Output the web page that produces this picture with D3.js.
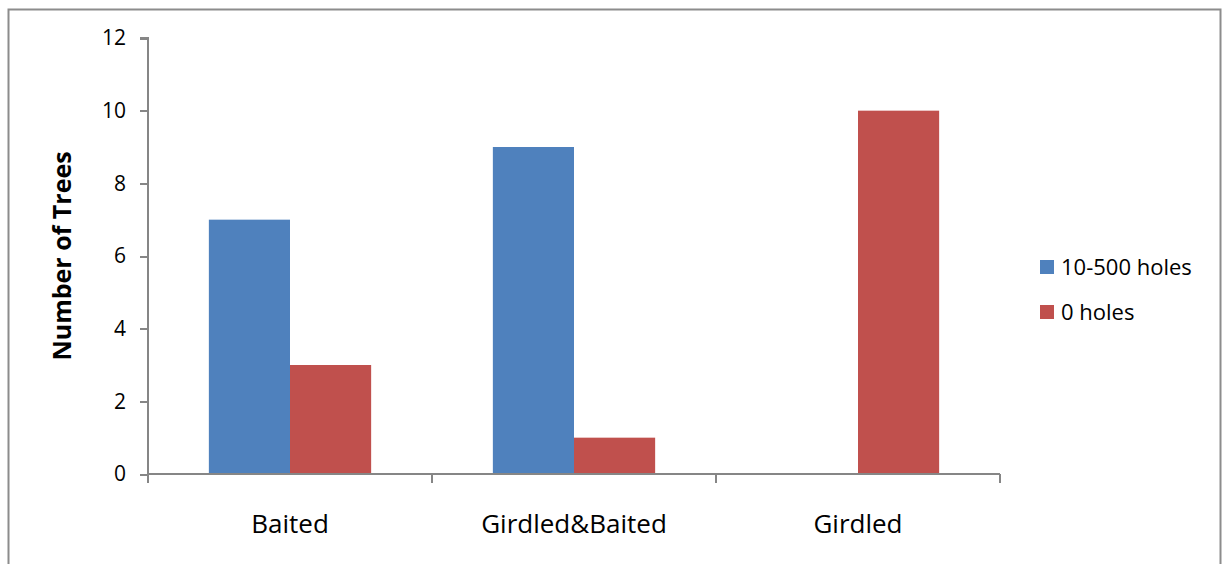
<!DOCTYPE html>
<html>
<meta charset="utf-8">
<style>
  body { margin: 0; background: #fff; }
  .axis path, .axis line { stroke: #868686; stroke-width: 2px; shape-rendering: crispEdges; }
  text { font-family: "Open Sans", "Liberation Sans", sans-serif; fill: #000; }
</style>
<svg width="1222" height="564"></svg>
<script src="https://d3js.org/d3.v7.min.js"></script>
<script>
  // data
  var categories = ["Baited", "Girdled&Baited", "Girdled"];
  var seriesNames = ["10-500 holes", "0 holes"];
  var holes10to500 = [7, 9, 0];
  var holes0 = [3, 1, 10];
  var yTicks = [0, 2, 4, 6, 8, 10, 12];
  var colors = ["#4f81bd", "#c0504d"];

  var svg = d3.select("svg");

  // outer frame
  svg.append("rect")
    .attr("x", 8.5).attr("y", 9.5)
    .attr("width", 1212).attr("height", 570)
    .attr("fill", "none").attr("stroke", "#8c8c8c").attr("stroke-width", 2);

  var plotLeft = 148, plotRight = 1000, plotTop = 38, plotBottom = 474;

  var x = d3.scaleBand().domain(categories).range([plotLeft, plotRight]);
  var x1 = d3.scaleBand().domain(seriesNames).range([0, x.bandwidth()]).paddingOuter(0.75).paddingInner(0);
  var y = d3.scaleLinear().domain([0, 12]).range([plotBottom, plotTop]);

  var series = [holes10to500, holes0];

  // bars
  series.forEach(function (vals, s) {
    svg.append("g").selectAll("rect")
      .data(vals)
      .enter().append("rect")
      .attr("x", function (d, i) { return x(categories[i]) + x1(seriesNames[s]); })
      .attr("y", function (d) { return y(d); })
      .attr("width", x1.bandwidth())
      .attr("height", function (d) { return y(0) - y(d); })
      .attr("fill", colors[s]);
  });

  // y axis
  var yAxis = d3.axisLeft(y).tickValues(yTicks).tickSize(8).tickPadding(14);
  var gy = svg.append("g").attr("class", "axis")
    .attr("transform", "translate(" + plotLeft + ",0)")
    .call(yAxis);
  gy.select(".domain").attr("d", "M-8," + plotTop + "H0V" + plotBottom);
  gy.selectAll("text").attr("font-size", 21);

  // x axis
  var gx = svg.append("g").attr("class", "axis")
    .attr("transform", "translate(0," + plotBottom + ")");
  gx.append("path").attr("d", "M" + plotLeft + ",0H" + plotRight).attr("fill", "none");
  gx.selectAll("line.tk")
    .data(categories.concat(["end"]))
    .enter().append("line")
    .attr("x1", function (d, i) { return plotLeft + i * x.step(); })
    .attr("x2", function (d, i) { return plotLeft + i * x.step(); })
    .attr("y1", 0).attr("y2", 9);
  gx.selectAll("text")
    .data(categories)
    .enter().append("text")
    .attr("x", function (d) { return x(d) + x.bandwidth() / 2; })
    .attr("y", 59)
    .attr("text-anchor", "middle")
    .attr("font-size", 26)
    .text(function (d) { return d; });

  // y title
  svg.append("text")
    .attr("transform", "translate(71," + ((plotTop + plotBottom) / 2) + ") rotate(-90)")
    .attr("text-anchor", "middle")
    .attr("font-size", 25)
    .attr("font-weight", "bold")
    .text("Number of Trees");

  // legend
  var legend = svg.selectAll(".legend")
    .data(seriesNames)
    .enter().append("g")
    .attr("transform", function (d, i) { return "translate(1040," + (260 + i * 45) + ")"; });
  legend.append("rect")
    .attr("width", 14).attr("height", 14)
    .attr("fill", function (d, i) { return colors[i]; });
  legend.append("text")
    .attr("x", 21).attr("y", 15)
    .attr("font-size", 22)
    .text(function (d) { return d; });
</script>
</html>
